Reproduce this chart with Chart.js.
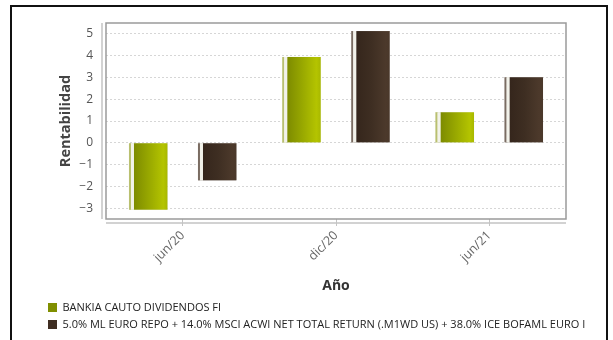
<!DOCTYPE html>
<html>
<head>
<meta charset="utf-8">
<script src="https://cdn.jsdelivr.net/npm/chart.js@4"></script>
<style>
    html, body { margin: 0; padding: 0; background: #fff; }
    .wrap { position: relative; width: 613px; height: 340px; overflow: hidden; }
    .frame { position: absolute; left: 10px; top: 5px; width: 598px; height: 340px; border: 2px solid #111; box-sizing: border-box; }
    canvas { position: absolute; left: 0; top: 0; }
</style>
</head>
<body>
<div class="wrap">
    <div class="frame"></div>
    <canvas id="chart" width="613" height="340"></canvas>
</div>
<script>
const categories = ['jun/20', 'dic/20', 'jun/21'];
const fundLabel = 'BANKIA CAUTO DIVIDENDOS FI';
const fundValues = [-3.07, 3.94, 1.40];
const benchLabel = '5.0% ML EURO REPO + 14.0% MSCI ACWI NET TOTAL RETURN (.M1WD US) + 38.0% ICE BOFAML EURO I';
const benchValues = [-1.72, 5.13, 3.01];
const yTicks = [-3, -2, -1, 0, 1, 2, 3, 4, 5];

const barStyles = [
    { base: '#808f00', strip: '#b9c070', stops: ['#7d8b00', '#98a800', '#b4c400', '#a8b800'] },
    { base: '#3f2e22', strip: '#7a6c62', stops: ['#35261c', '#3e2e22', '#4c392b', '#4a382a'] }
];

// paints the shaded look over each bar, using the bar elements Chart.js laid out
const shadedBars = {
    id: 'shadedBars',
    afterDatasetsDraw(chart) {
        const ctx = chart.ctx;
        chart.data.datasets.forEach((ds, i) => {
            const style = barStyles[i];
            chart.getDatasetMeta(i).data.forEach(bar => {
                const { x, y, base, width } = bar.getProps(['x', 'y', 'base', 'width'], true);
                const left = x - width / 2;
                const top = Math.min(y, base);
                const h = Math.abs(base - y);
                ctx.save();
                ctx.fillStyle = '#ffffff';
                ctx.fillRect(left, top, width, h);
                ctx.fillStyle = style.strip;
                ctx.fillRect(left, top, 2, h);
                ctx.fillStyle = '#f2f2ea';
                ctx.fillRect(left + 2, top, 3, h);
                const g = ctx.createLinearGradient(left + 5, 0, left + width, 0);
                g.addColorStop(0, style.stops[0]);
                g.addColorStop(0.45, style.stops[1]);
                g.addColorStop(0.88, style.stops[2]);
                g.addColorStop(1, style.stops[3]);
                ctx.fillStyle = g;
                ctx.fillRect(left + 5, top, width - 5, h);
                ctx.restore();
            });
        });
    }
};

// plot frame plus the detached axis lines
const plotFrame = {
    id: 'plotFrame',
    afterLayout(chart) {
        // let the long legend label run past the plot's right edge instead of being clipped
        const lg = chart.legend;
        lg.right = chart.width;
        lg.width = lg.right - lg.left;
    },
    beforeDatasetsDraw(chart) {
        const { ctx, chartArea: a } = chart;
        ctx.save();
        ctx.strokeStyle = '#9a9a9a';
        ctx.lineWidth = 1.5;
        ctx.strokeRect(a.left, a.top, a.right - a.left, a.bottom - a.top);
        ctx.strokeStyle = '#c4c4c4';
        ctx.lineWidth = 1.5;
        ctx.beginPath();
        ctx.moveTo(a.left - 4, a.top);
        ctx.lineTo(a.left - 4, a.bottom);
        ctx.moveTo(a.left, a.bottom + 4);
        ctx.lineTo(a.right, a.bottom + 4);
        ctx.stroke();
        ctx.restore();
    }
};

new Chart(document.getElementById('chart').getContext('2d'), {
    type: 'bar',
    data: {
        labels: categories,
        datasets: [
            { label: fundLabel, data: fundValues, backgroundColor: barStyles[0].base },
            { label: benchLabel, data: benchValues, backgroundColor: barStyles[1].base }
        ]
    },
    options: {
        responsive: false,
        animation: false,
        devicePixelRatio: 1,
        categoryPercentage: 0.9,
        barPercentage: 0.556,
        layout: { padding: { left: 42, right: 47, top: 23, bottom: 0 } },
        plugins: {
            tooltip: { enabled: false },
            legend: {
                position: 'bottom',
                align: 'start',
                labels: {
                    boxWidth: 9,
                    boxHeight: 9,
                    padding: 6,
                    color: '#222',
                    font: { family: 'Open Sans', size: 11 }
                }
            }
        },
        scales: {
            x: {
                grid: { display: true, drawOnChartArea: false, offset: false, tickLength: 7, color: '#c4c4c4' },
                border: { display: false },
                ticks: { color: '#666', minRotation: 45, maxRotation: 45, padding: 2, font: { family: 'Open Sans', size: 12.5 } },
                title: { display: true, text: 'Año', color: '#333', padding: { top: 4, bottom: 2 }, font: { family: 'Open Sans', size: 14, weight: 'bold' } },
                afterFit: scale => { scale.height = 77; }
            },
            y: {
                min: -3.5,
                max: 5.5,
                afterBuildTicks: scale => { scale.ticks = yTicks.map(v => ({ value: v })); },
                grid: { color: '#d6d6d6', drawTicks: false },
                border: { display: false, dash: [2, 2] },
                ticks: {
                    color: '#555',
                    padding: 13,
                    font: { family: 'Open Sans', size: 12 },
                    callback: v => (v < 0 ? '\u2212' + Math.abs(v) : String(v))
                },
                title: { display: true, text: 'Rentabilidad', color: '#444', padding: { top: 15, bottom: 0 }, font: { family: 'Open Sans', size: 14.5, weight: 'bold' } },
                afterFit: scale => { scale.width = 64; }
            }
        }
    },
    plugins: [plotFrame, shadedBars]
});
</script>
</body>
</html>
